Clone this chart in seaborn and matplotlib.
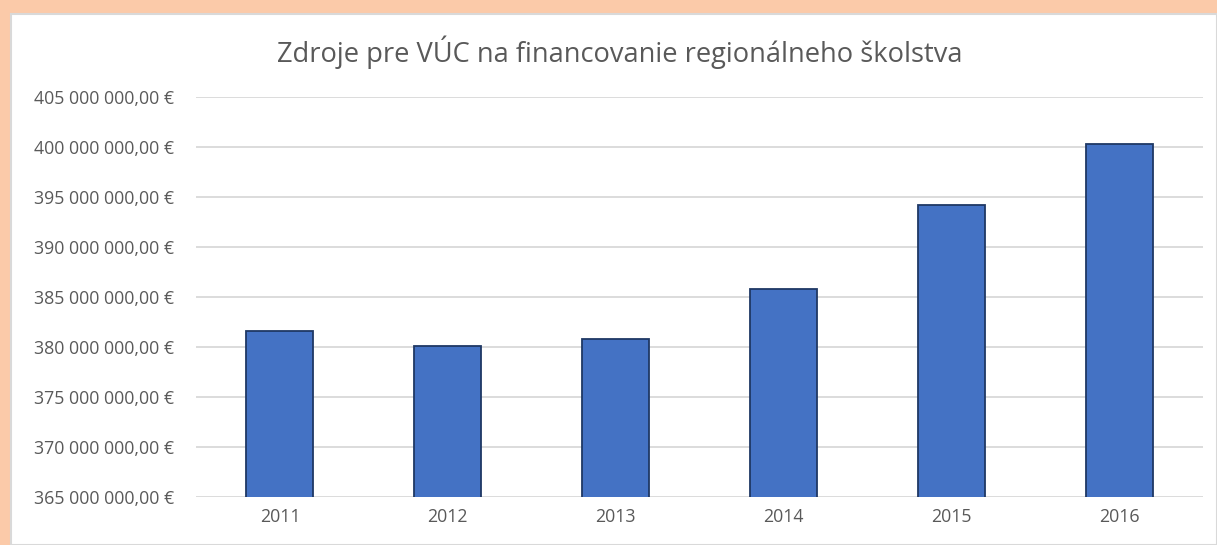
import matplotlib
matplotlib.use("Agg")
import matplotlib.pyplot as plt
import matplotlib.ticker as mticker
from matplotlib.patches import Rectangle
import seaborn as sns
import pandas as pd

years = ["2011", "2012", "2013", "2014", "2015", "2016"]
zdroje = [381.6e6, 380.1e6, 380.8e6, 385.8e6, 394.2e6, 400.3e6]
title = "Zdroje pre VÚC na financovanie regionálneho školstva"

df = pd.DataFrame({"rok": years, "suma": zdroje})

sns.set_style("white")
plt.rcParams["font.family"] = ["Open Sans", "DejaVu Sans"]

fig = plt.figure(figsize=(12.17, 5.45), dpi=100, facecolor="#fbcaa9")
# white chart area over the peach slide background
fig.patches.append(Rectangle((11 / 1217, 0), 1 - 11 / 1217, 1 - 14 / 545,
                             transform=fig.transFigure, facecolor="white",
                             edgecolor="#d9d9d9", linewidth=1.5, zorder=-10))

ax = fig.add_axes([196 / 1217, 1 - 497 / 545, (1203 - 196) / 1217, (497 - 97) / 545])
ax.set_facecolor("white")
sns.barplot(data=df, x="rok", y="suma", color="#4472c4", width=0.4,
            edgecolor="#1f3864", linewidth=1.3, saturation=1, ax=ax)

ax.set_ylim(365e6, 405e6)
ax.yaxis.set_major_locator(mticker.MultipleLocator(5e6))


def eur(v, pos):
    s = f"{v:,.2f}".replace(",", " ").replace(".", ",")
    return s + " €"


ax.yaxis.set_major_formatter(mticker.FuncFormatter(eur))
ax.grid(axis="y", color="#d9d9d9", linewidth=1.3)
ax.set_axisbelow(True)
for s in ax.spines.values():
    s.set_visible(False)
ax.tick_params(axis="both", length=0, labelsize=12.8, labelcolor="#595959")
ax.tick_params(axis="y", pad=16)
ax.tick_params(axis="x", pad=8)
ax.set_xlabel("")
ax.set_ylabel("")

fig.text(620 / 1217, 1 - 52 / 545, title, ha="center", va="center",
         fontsize=19.6, color="#595959")

fig.savefig("out.png", dpi=100, facecolor=fig.get_facecolor())
